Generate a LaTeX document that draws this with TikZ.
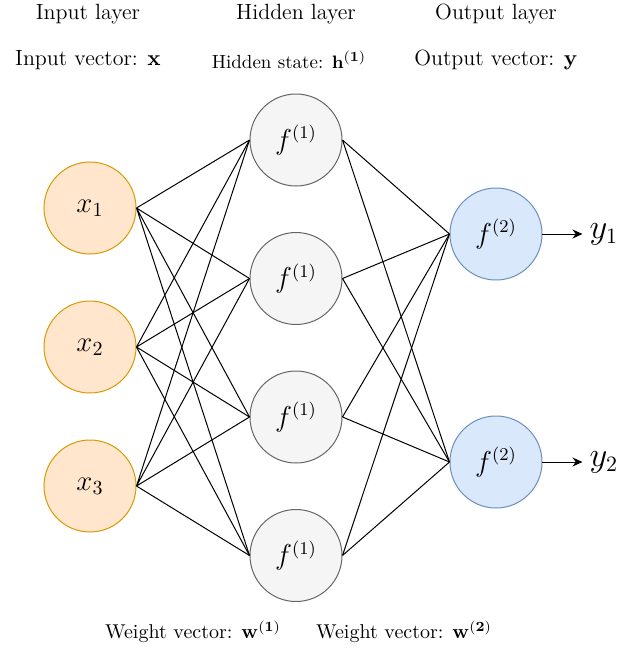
\documentclass[tikz,border=0pt]{standalone}
\usetikzlibrary{arrows.meta,positioning}
\definecolor{inpfill}{HTML}{FFE6CC}
\definecolor{inpdraw}{HTML}{D79B00}
\definecolor{hidfill}{HTML}{F5F5F5}
\definecolor{hiddraw}{HTML}{666666}
\definecolor{outfill}{HTML}{DAE8FC}
\definecolor{outdraw}{HTML}{6C8EBF}
\begin{document}
\begin{tikzpicture}[x=0.5pt,y=-0.5pt,
  neuron/.style={circle,minimum size=46pt,inner sep=0pt,line width=0.5pt,
                 font=\fontsize{13.5}{15}\selectfont},
  inp/.style={neuron,draw=inpdraw,fill=inpfill,font=\fontsize{14}{16}\selectfont},
  hid/.style={neuron,draw=hiddraw,fill=hidfill},
  outn/.style={neuron,draw=outdraw,fill=outfill},
  lbl/.style={font=\fontsize{11}{13}\selectfont,inner sep=0pt},
  ylbl/.style={font=\fontsize{16}{18}\selectfont},
  link/.style={line width=0.5pt},
  arr/.style={-{Stealth[length=5pt,width=4.5pt]},line width=0.5pt},
  node distance=23pt
]
\useasboundingbox (0,0) rectangle (618,650);
% input layer
\node[inp] (x1) at (90,208) {$x_1$};
\node[inp,below=of x1] (x2) {$x_2$};
\node[inp,below=of x2] (x3) {$x_3$};
% hidden layer
\node[hid] (h1) at (296,140) {$f^{(1)}$};
\node[hid,below=22.75pt of h1] (h2) {$f^{(1)}$};
\node[hid,below=22.75pt of h2] (h3) {$f^{(1)}$};
\node[hid,below=22.75pt of h3] (h4) {$f^{(1)}$};
% output layer
\node[outn] (o1) at (496,234) {$f^{(2)}$};
\node[outn,below=67.5pt of o1] (o2) {$f^{(2)}$};
\node[ylbl,right=20pt of o1] (y1) {$y_1$};
\node[ylbl,right=20pt of o2] (y2) {$y_2$};
% captions
\node[lbl] (tin)  at (88,14)  {Input layer};
\node[lbl] (thid) at (296,14) {Hidden layer};
\node[lbl] (tout) at (496,14) {Output layer};
\node[lbl] (vin)  at (88,60)  {Input vector: $\mathbf{x}$};
\node[lbl,font=\fontsize{9.5}{11}\selectfont] (vhid) at (289,60)
  {Hidden state: $\mathbf{h}^{\mathbf{(1)}}$};
\node[lbl] (vout) at (496,60) {Output vector: $\mathbf{y}$};
\node[lbl,font=\fontsize{10}{12}\selectfont] (w1) at (193,632)
  {Weight vector: $\mathbf{w}^{\mathbf{(1)}}$};
\node[lbl,font=\fontsize{10}{12}\selectfont] (w2) at (404,632)
  {Weight vector: $\mathbf{w}^{\mathbf{(2)}}$};
% weights
\draw[link] (x1.east) -- (h1.west) (x1.east) -- (h2.west)
            (x1.east) -- (h3.west) (x1.east) -- (h4.west);
\draw[link] (x2.east) -- (h1.west) (x2.east) -- (h2.west)
            (x2.east) -- (h3.west) (x2.east) -- (h4.west);
\draw[link] (x3.east) -- (h1.west) (x3.east) -- (h2.west)
            (x3.east) -- (h3.west) (x3.east) -- (h4.west);
\draw[link] (h1.east) -- (o1.west) (h1.east) -- (o2.west);
\draw[link] (h2.east) -- (o1.west) (h2.east) -- (o2.west);
\draw[link] (h3.east) -- (o1.west) (h3.east) -- (o2.west);
\draw[link] (h4.east) -- (o1.west) (h4.east) -- (o2.west);
\draw[arr] (o1.east) -- (y1.west);
\draw[arr] (o2.east) -- (y2.west);
\end{tikzpicture}
\end{document}
